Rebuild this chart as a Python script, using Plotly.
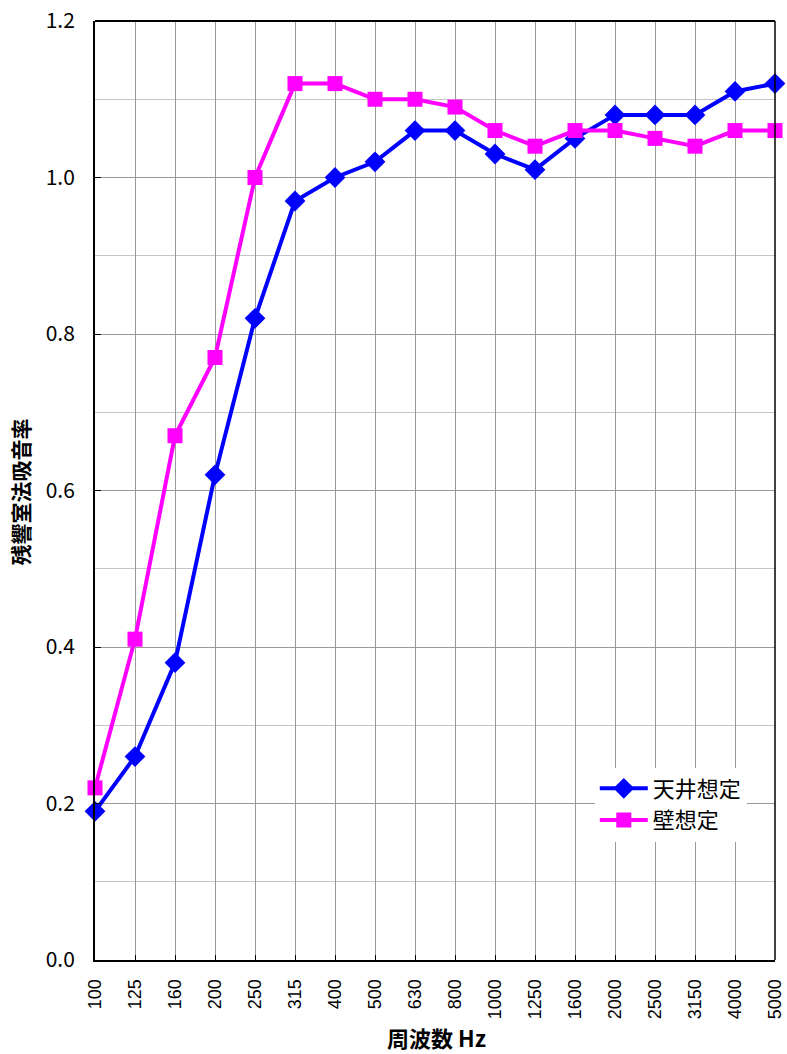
import plotly.graph_objects as go

freqs = ["100", "125", "160", "200", "250", "315", "400", "500", "630", "800",
         "1000", "1250", "1600", "2000", "2500", "3150", "4000", "5000"]
ceiling = [0.19, 0.26, 0.38, 0.62, 0.82, 0.97, 1.00, 1.02, 1.06, 1.06,
           1.03, 1.01, 1.05, 1.08, 1.08, 1.08, 1.11, 1.12]
wall = [0.22, 0.41, 0.67, 0.77, 1.00, 1.12, 1.12, 1.10, 1.10, 1.09,
        1.06, 1.04, 1.06, 1.06, 1.05, 1.04, 1.06, 1.06]
y_ticks = [0.0, 0.2, 0.4, 0.6, 0.8, 1.0, 1.2]
y_labels = ["0.0", "0.2", "0.4", "0.6", "0.8", "1.0", "1.2"]

FONT = "Noto Sans CJK JP"

fig = go.Figure()
fig.add_trace(go.Scatter(
    x=freqs, y=ceiling, name="天井想定", mode="lines+markers",
    line=dict(color="#0000FF", width=4),
    marker=dict(symbol="diamond", size=16, color="#0000FF"),
    cliponaxis=False,
))
fig.add_trace(go.Scatter(
    x=freqs, y=wall, name="壁想定", mode="lines+markers",
    line=dict(color="#FF00FF", width=4),
    marker=dict(symbol="square", size=15, color="#FF00FF"),
    cliponaxis=False,
))

fig.update_layout(
    width=787, height=1054,
    margin=dict(l=95, r=12, t=21, b=94, autoexpand=False),
    paper_bgcolor="white", plot_bgcolor="white",
    font=dict(family=FONT, color="black"),
    legend=dict(
        x=0.735, y=0.205, xanchor="left", yanchor="top",
        bgcolor="white", borderwidth=0,
        font=dict(family=FONT, size=22, color="black"),
        itemwidth=48, tracegroupgap=2,
    ),
    showlegend=True,
)
fig.update_xaxes(
    type="category", range=[0, 17], automargin=False,
    showgrid=True, gridcolor="#999999", gridwidth=1,
    showline=True, linecolor="black", linewidth=2, mirror=False,
    ticks="inside", ticklen=5, tickcolor="black",
    tickangle=-90, tickfont=dict(family="Liberation Sans", size=18),
    ticklabelstandoff=10,
)
fig.update_yaxes(
    range=[0, 1.2], tickvals=y_ticks, ticktext=y_labels, automargin=False,
    showgrid=True, gridcolor="#999999", gridwidth=1,
    minor=dict(dtick=0.1, showgrid=True, gridcolor="#C4C4C4", gridwidth=1),
    showline=True, linecolor="black", linewidth=2,
    ticks="inside", ticklen=6, tickcolor="black",
    tickfont=dict(family=FONT, size=21),
    ticklabelstandoff=14,
    zeroline=False,
)
fig.add_annotation(text="<b>残響室法吸音率</b>", xref="paper", yref="paper",
                   x=-0.11, y=0.498, xanchor="center", yanchor="middle",
                   textangle=-90, showarrow=False,
                   font=dict(family=FONT, size=21, color="black"))
fig.add_annotation(text="<b>周波数 Hz</b>", xref="paper", yref="paper",
                   x=0.502, y=-0.0815, xanchor="center", yanchor="middle",
                   showarrow=False,
                   font=dict(family=FONT, size=22, color="black"))
fig.add_shape(type="line", xref="paper", yref="paper", x0=0, x1=1, y0=1, y1=1,
              line=dict(color="black", width=2))
fig.add_shape(type="line", xref="paper", yref="paper", x0=1, x1=1, y0=0, y1=1,
              line=dict(color="black", width=1.5))

fig.write_html("out.html", config={"displayModeBar": False},
               post_script="document.body.style.margin='0';")
